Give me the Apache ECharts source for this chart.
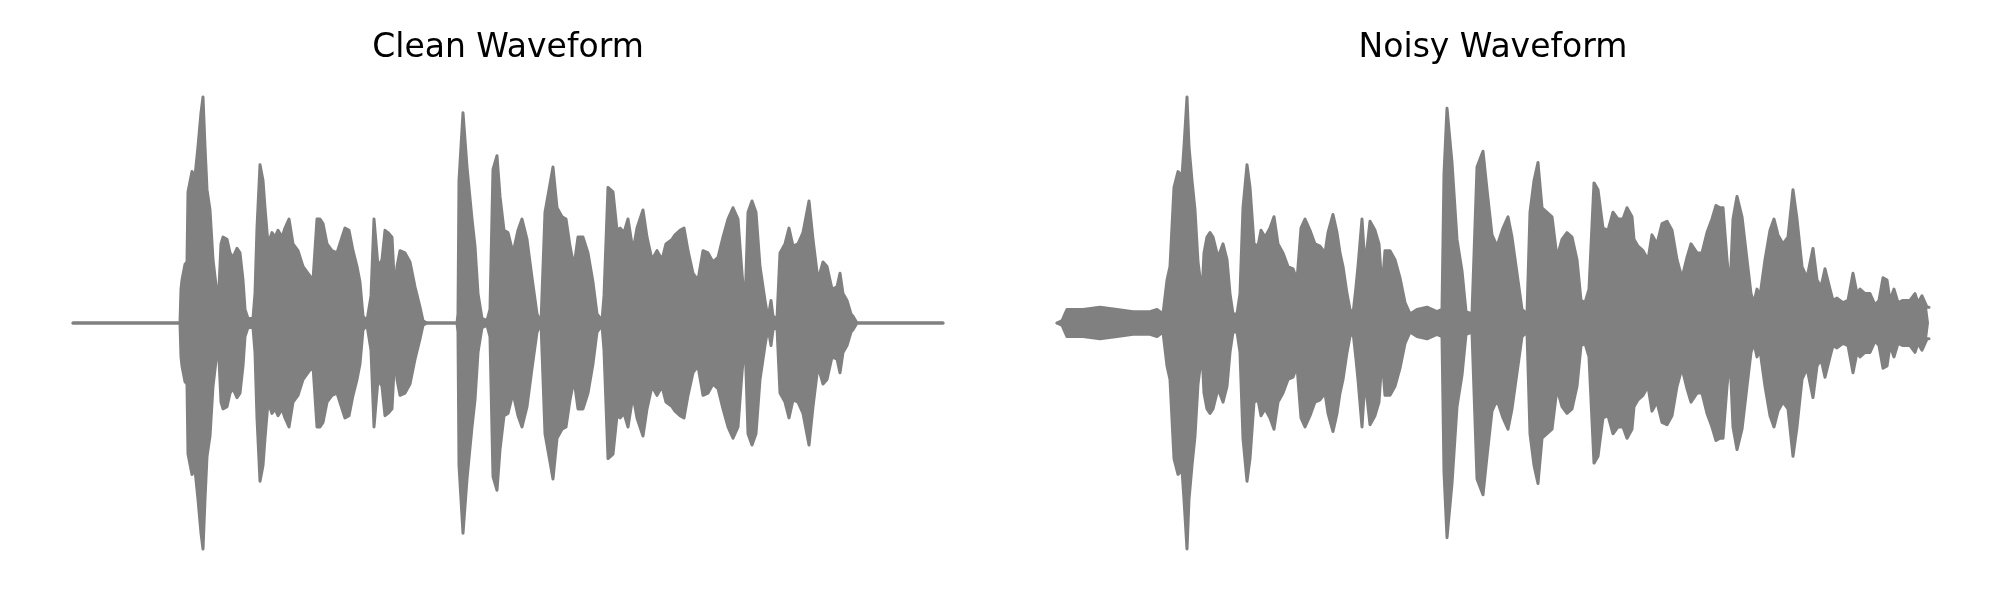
<!DOCTYPE html>
<html>
<head>
<meta charset="utf-8">
<script src="https://cdn.jsdelivr.net/npm/echarts@6/dist/echarts.min.js"></script>
<style>
html,body{margin:0;padding:0;background:#fff;}
#chart{width:2000px;height:600px;}
</style>
</head>
<body>
<div id="chart"></div>
<script>
// Panel titles
const titles = ["Clean Waveform", "Noisy Waveform"];

// Clean waveform: time positions (frames) and envelope amplitude (normalised)
const cleanTime = [0,107,108,109,112,114,115,119,122,125,128,130,132,134,137,140,144,145,148,150,154,157,160,164,167,170,172,175,180,182,184,187,190,192,195,199,202,205,209,212,216,220,225,230,235,240,244,247,250,254,259,264,269,272,276,280,284,287,290,294,298,301,305,309,312,315,319,322,324,327,332,337,342,347,350,354,384,385,386,390,394,399,402,405,409,414,417,420,424,427,431,435,440,445,449,454,459,464,468,472,476,480,484,489,493,497,501,505,510,515,520,524,529,531,535,540,544,547,551,555,560,564,570,574,579,584,589,593,599,602,607,611,615,620,625,630,635,640,645,650,655,660,665,669,672,675,679,683,687,692,695,698,700,704,707,712,716,720,725,730,736,740,745,750,754,759,764,767,770,774,778,780,784,870];
const cleanAmp = [0,0,0.15,0.19,0.26,0.27,0.58,0.67,0.65,0.78,0.93,1.00,0.78,0.59,0.50,0.28,0.13,0.06,0.35,0.38,0.37,0.31,0.29,0.33,0.31,0.19,0.06,0.02,0.02,0.13,0.42,0.70,0.63,0.51,0.35,0.40,0.38,0.41,0.38,0.42,0.46,0.35,0.32,0.25,0.22,0.19,0.46,0.46,0.44,0.35,0.32,0.31,0.38,0.42,0.41,0.32,0.25,0.18,0.03,0.01,0.12,0.46,0.25,0.28,0.41,0.40,0.38,0.12,0.25,0.32,0.31,0.27,0.16,0.07,0.01,0,0,0.04,0.63,0.93,0.69,0.46,0.34,0.13,0.02,0.01,0.06,0.68,0.74,0.56,0.41,0.40,0.31,0.41,0.46,0.37,0.20,0.04,0.00,0.49,0.59,0.69,0.51,0.47,0.46,0.34,0.25,0.38,0.38,0.31,0.18,0.04,0.01,0.12,0.60,0.58,0.41,0.42,0.40,0.46,0.32,0.42,0.50,0.38,0.28,0.32,0.28,0.35,0.37,0.39,0.41,0.42,0.32,0.22,0.19,0.32,0.31,0.27,0.29,0.38,0.46,0.51,0.46,0.22,0.07,0.49,0.54,0.49,0.25,0.10,0.02,0.10,0.03,0.02,0.31,0.35,0.42,0.34,0.35,0.40,0.54,0.37,0.19,0.27,0.25,0.15,0.16,0.22,0.13,0.10,0.04,0.03,0,0];

// Noisy waveform
const noisyTime = [0,5,8,10,20,26,43,60,76,93,100,106,110,113,117,121,125,127,130,132,135,138,141,145,147,150,153,156,161,166,170,173,176,180,183,186,190,193,197,201,204,208,213,217,221,226,231,236,240,244,248,253,258,263,268,271,276,280,283,286,290,293,296,299,301,305,308,313,318,322,325,328,333,338,343,348,353,360,370,380,385,387,390,395,400,405,409,415,420,426,430,435,440,446,451,455,460,465,470,473,477,481,485,490,495,500,505,510,515,520,524,528,532,537,541,546,551,556,561,566,570,575,577,581,586,591,595,600,605,610,615,620,625,630,634,640,645,650,655,659,663,666,670,673,676,680,685,690,694,697,700,703,708,713,717,721,726,731,736,740,745,750,756,760,764,768,773,776,780,786,791,796,800,803,808,813,818,822,826,830,833,837,841,846,853,858,861,865,870,872];
const noisyAmp = [0,0.01,0.04,0.06,0.06,0.06,0.07,0.06,0.05,0.05,0.06,0.04,0.19,0.25,0.60,0.67,0.65,0.78,1.00,0.78,0.63,0.50,0.27,0.13,0.31,0.38,0.40,0.38,0.29,0.35,0.28,0.13,0.04,0.04,0.13,0.51,0.70,0.60,0.35,0.34,0.41,0.38,0.42,0.47,0.35,0.31,0.25,0.24,0.19,0.42,0.46,0.41,0.35,0.34,0.31,0.40,0.48,0.40,0.31,0.25,0.13,0.06,0.04,0.16,0.25,0.46,0.25,0.45,0.41,0.35,0.15,0.32,0.32,0.28,0.20,0.09,0.04,0.06,0.07,0.05,0.06,0.66,0.95,0.71,0.37,0.23,0.05,0.04,0.69,0.76,0.59,0.39,0.34,0.42,0.47,0.38,0.22,0.06,0.04,0.49,0.63,0.71,0.51,0.49,0.47,0.29,0.37,0.40,0.38,0.28,0.10,0.09,0.15,0.62,0.59,0.42,0.41,0.49,0.46,0.46,0.51,0.47,0.37,0.34,0.32,0.28,0.39,0.35,0.44,0.45,0.41,0.28,0.20,0.29,0.35,0.31,0.31,0.40,0.46,0.52,0.51,0.51,0.28,0.15,0.46,0.56,0.47,0.28,0.13,0.09,0.15,0.12,0.28,0.41,0.46,0.39,0.35,0.38,0.59,0.46,0.25,0.20,0.33,0.19,0.16,0.24,0.15,0.10,0.11,0.09,0.10,0.22,0.13,0.15,0.13,0.13,0.08,0.10,0.20,0.19,0.10,0.15,0.09,0.10,0.10,0.13,0.09,0.12,0.07,0.07];

const waveColor = '#808080';
const chart = echarts.init(document.getElementById('chart'), null, {renderer: 'canvas'});

function pairs(t, a, sign) { return t.map((v, i) => [v, sign * a[i]]); }

function waveSeries(idx, t, a) {
  const base = {
    type: 'line', xAxisIndex: idx, yAxisIndex: idx,
    showSymbol: false, symbol: 'none', animation: false, silent: true,
    lineStyle: {color: waveColor, width: 3, join: 'round', cap: 'round'},
    itemStyle: {color: waveColor},
    areaStyle: {color: waveColor, opacity: 1, origin: 0}
  };
  return [
    Object.assign({}, base, {data: pairs(t, a, 1)}),
    Object.assign({}, base, {data: pairs(t, a, -1)})
  ];
}

const grids = [
  {left: 73, width: 870, top: 74.4, height: 497.2},
  {left: 1057, width: 872, top: 74.4, height: 497.2}
];

chart.setOption({
  backgroundColor: '#ffffff',
  animation: false,
  title: [
    {text: titles[0], left: 503, top: 27, textAlign: 'center',
     textStyle: {fontFamily: 'DejaVu Sans', fontSize: 33, fontWeight: 'normal', color: '#000'}},
    {text: titles[1], left: 1488, top: 27, textAlign: 'center',
     textStyle: {fontFamily: 'DejaVu Sans', fontSize: 33, fontWeight: 'normal', color: '#000'}}
  ],
  grid: grids,
  xAxis: [
    {type: 'value', gridIndex: 0, min: 0, max: 870, show: false},
    {type: 'value', gridIndex: 1, min: 0, max: 872, show: false}
  ],
  yAxis: [
    {type: 'value', gridIndex: 0, min: -1.1, max: 1.1, show: false},
    {type: 'value', gridIndex: 1, min: -1.1, max: 1.1, show: false}
  ],
  series: [].concat(waveSeries(0, cleanTime, cleanAmp), waveSeries(1, noisyTime, noisyAmp))
});
</script>
</body>
</html>
